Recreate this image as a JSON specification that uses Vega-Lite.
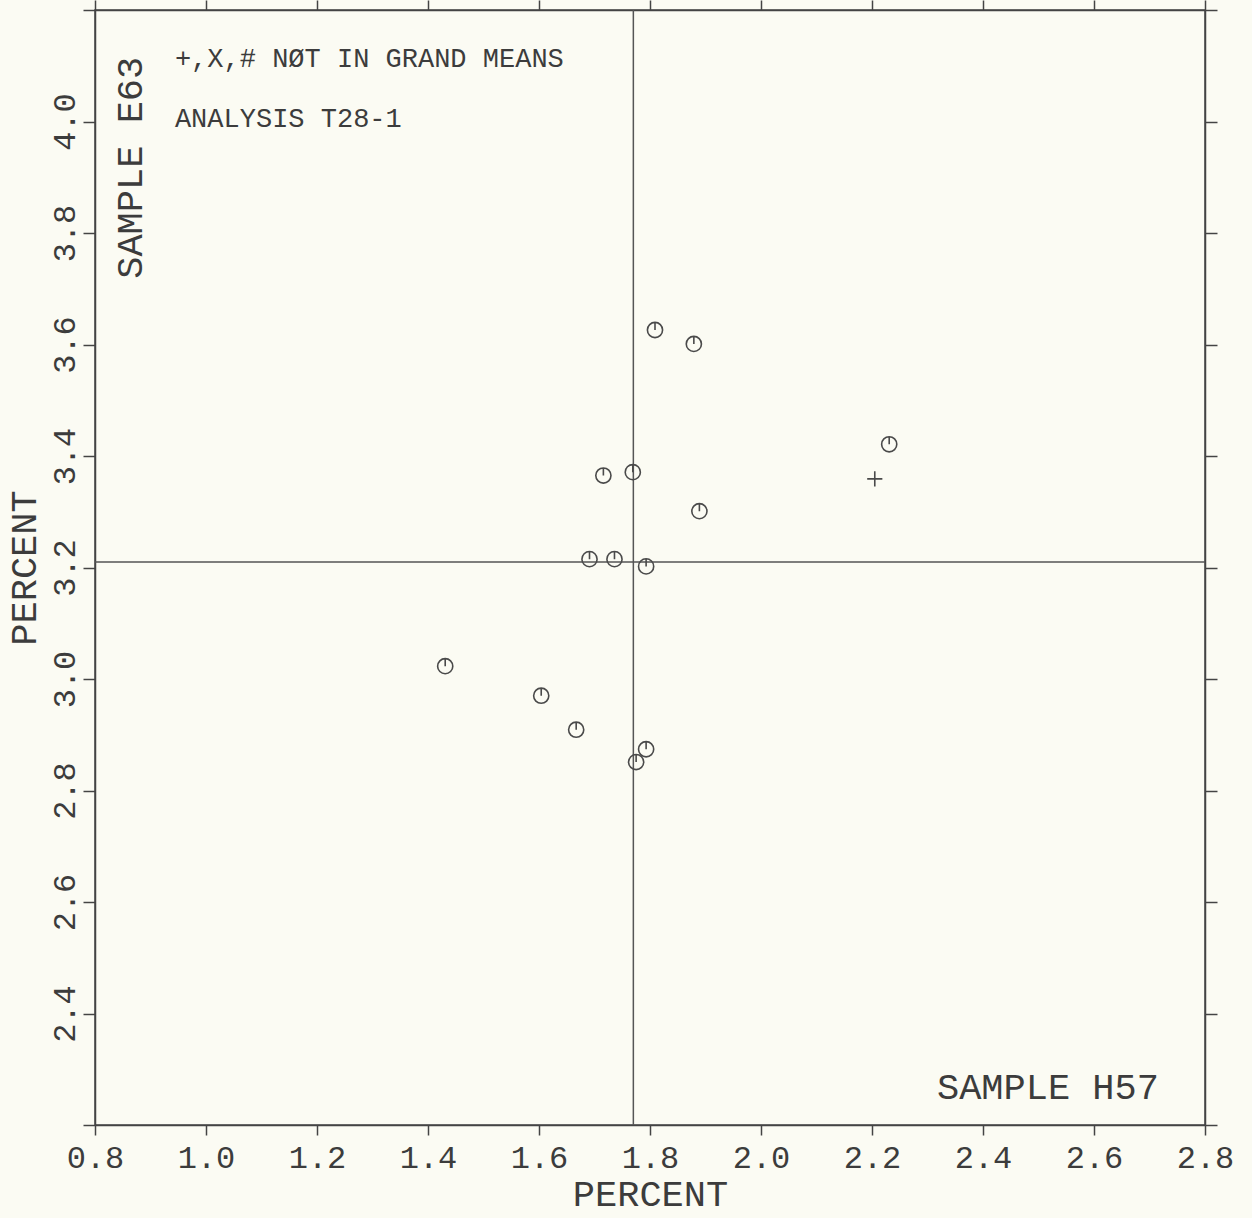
{
  "$schema": "https://vega.github.io/schema/vega-lite/v6.json",
  "width": 1110,
  "height": 1115,
  "autosize": {"type": "none"},
  "padding": {"left": 95, "top": 10, "right": 47, "bottom": 93},
  "background": "#fbfbf3",
  "datasets": {
    "pts": [
      {"h57": 1.809, "e63": 3.626, "kind": "lab"},
      {"h57": 1.879, "e63": 3.601, "kind": "lab"},
      {"h57": 2.231, "e63": 3.421, "kind": "lab"},
      {"h57": 1.716, "e63": 3.365, "kind": "lab"},
      {"h57": 1.769, "e63": 3.371, "kind": "lab"},
      {"h57": 1.889, "e63": 3.301, "kind": "lab"},
      {"h57": 1.691, "e63": 3.215, "kind": "lab"},
      {"h57": 1.736, "e63": 3.215, "kind": "lab"},
      {"h57": 1.793, "e63": 3.202, "kind": "lab"},
      {"h57": 1.431, "e63": 3.023, "kind": "lab"},
      {"h57": 1.604, "e63": 2.970, "kind": "lab"},
      {"h57": 1.667, "e63": 2.909, "kind": "lab"},
      {"h57": 1.793, "e63": 2.874, "kind": "lab"},
      {"h57": 1.775, "e63": 2.851, "kind": "lab"},
      {"h57": 2.205, "e63": 3.359, "kind": "notgrand"}
    ],
    "means": [{"mx": 1.770, "my": 3.210}]
  },
  "layer": [
    {
      "data": {"name": "means"},
      "mark": {"type": "rule", "stroke": "#555", "strokeWidth": 1.5},
      "encoding": {
        "x": {
          "field": "mx", "type": "quantitative",
          "scale": {"domain": [0.8, 2.8], "nice": false, "zero": false},
          "axis": {
            "orient": "top", "values": [0.8, 1.0, 1.2, 1.4, 1.6, 1.8, 2.0, 2.2, 2.4, 2.6, 2.8],
            "labels": false, "title": null, "tickSize": 10, "domain": true, "grid": false
          }
        }
      }
    },
    {
      "data": {"name": "means"},
      "mark": {"type": "rule", "stroke": "#555", "strokeWidth": 1.5},
      "encoding": {
        "y": {
          "field": "my", "type": "quantitative",
          "scale": {"domain": [2.2, 4.2], "nice": false, "zero": false},
          "axis": {
            "orient": "right", "values": [2.2, 2.4, 2.6, 2.8, 3.0, 3.2, 3.4, 3.6, 3.8, 4.0, 4.2],
            "labels": false, "title": null, "tickSize": 12, "domain": true, "grid": false
          }
        }
      }
    },
    {
      "data": {"name": "pts"},
      "mark": {"type": "point", "filled": false, "strokeWidth": 1.6, "color": "#4a4a4a", "opacity": 1},
      "encoding": {
        "x": {
          "field": "h57", "type": "quantitative",
          "scale": {"domain": [0.8, 2.8], "nice": false, "zero": false},
          "axis": {
            "orient": "bottom", "values": [0.8, 1.0, 1.2, 1.4, 1.6, 1.8, 2.0, 2.2, 2.4, 2.6, 2.8],
            "format": ".1f", "labelFontSize": 32, "tickSize": 10, "labelPadding": 7,
            "labelFlush": false, "labelOverlap": false, "labelBound": false,
            "title": "PERCENT", "titleFontSize": 37, "titlePadding": 3, "grid": false
          }
        },
        "y": {
          "field": "e63", "type": "quantitative",
          "scale": {"domain": [2.2, 4.2], "nice": false, "zero": false},
          "axis": {
            "orient": "left", "values": [2.2, 2.4, 2.6, 2.8, 3.0, 3.2, 3.4, 3.6, 3.8, 4.0, 4.2],
            "labelExpr": "datum.value < 2.3 || datum.value > 4.1 ? '' : format(datum.value, '.1f')",
            "labelAngle": 270, "labelAlign": "center", "labelBaseline": "alphabetic",
            "labelFontSize": 32, "tickSize": 12, "labelPadding": 9,
            "labelFlush": false, "labelOverlap": false, "labelBound": false,
            "title": "PERCENT", "titleFontSize": 37, "titlePadding": 5, "grid": false
          }
        },
        "shape": {
          "field": "kind", "type": "nominal",
          "scale": {
            "domain": ["lab", "notgrand"],
            "range": ["M-1,0A1,1 0 1,1 1,0A1,1 0 1,1 -1,0M0,-1L0,0", "M-1,0L1,0M0,-1L0,1"]
          },
          "legend": null
        },
        "size": {"value": 230}
      }
    },
    {
      "data": {"values": [{"note": "+,X,# NØT IN GRAND MEANS"}]},
      "mark": {"type": "text", "font": "Liberation Mono", "fontSize": 27, "align": "left", "baseline": "middle", "color": "#3c3c3c"},
      "encoding": {
        "text": {"field": "note", "type": "nominal"},
        "x": {"datum": 0.944, "type": "quantitative", "scale": {"domain": [0.8, 2.8], "nice": false, "zero": false}, "axis": null},
        "y": {"datum": 4.112, "type": "quantitative", "scale": {"domain": [2.2, 4.2], "nice": false, "zero": false}, "axis": null}
      }
    },
    {
      "data": {"values": [{"note": "ANALYSIS T28-1"}]},
      "mark": {"type": "text", "font": "Liberation Mono", "fontSize": 27, "align": "left", "baseline": "middle", "color": "#3c3c3c"},
      "encoding": {
        "text": {"field": "note", "type": "nominal"},
        "x": {"datum": 0.944, "type": "quantitative", "scale": {"domain": [0.8, 2.8], "nice": false, "zero": false}, "axis": null},
        "y": {"datum": 4.004, "type": "quantitative", "scale": {"domain": [2.2, 4.2], "nice": false, "zero": false}, "axis": null}
      }
    },
    {
      "data": {"values": [{"note": "SAMPLE H57"}]},
      "mark": {"type": "text", "font": "Liberation Mono", "fontSize": 37, "align": "left", "baseline": "middle", "color": "#3c3c3c"},
      "encoding": {
        "text": {"field": "note", "type": "nominal"},
        "x": {"datum": 2.317, "type": "quantitative", "scale": {"domain": [0.8, 2.8], "nice": false, "zero": false}, "axis": null},
        "y": {"datum": 2.266, "type": "quantitative", "scale": {"domain": [2.2, 4.2], "nice": false, "zero": false}, "axis": null}
      }
    },
    {
      "data": {"values": [{"note": "SAMPLE E63"}]},
      "mark": {"type": "text", "font": "Liberation Mono", "fontSize": 37, "align": "center", "baseline": "middle", "angle": 270, "color": "#3c3c3c"},
      "encoding": {
        "text": {"field": "note", "type": "nominal"},
        "x": {"datum": 0.865, "type": "quantitative", "scale": {"domain": [0.8, 2.8], "nice": false, "zero": false}, "axis": null},
        "y": {"datum": 3.917, "type": "quantitative", "scale": {"domain": [2.2, 4.2], "nice": false, "zero": false}, "axis": null}
      }
    }
  ],
  "resolve": {"axis": {"x": "independent", "y": "independent"}},
  "config": {
    "axis": {
      "labelFont": "Liberation Mono", "titleFont": "Liberation Mono",
      "labelColor": "#3c3c3c", "titleColor": "#3c3c3c", "titleFontWeight": "normal",
      "domainColor": "#444", "tickColor": "#444", "domainWidth": 1.5, "tickWidth": 1.5
    },
    "view": {"stroke": "#444", "strokeWidth": 1.5}
  }
}
